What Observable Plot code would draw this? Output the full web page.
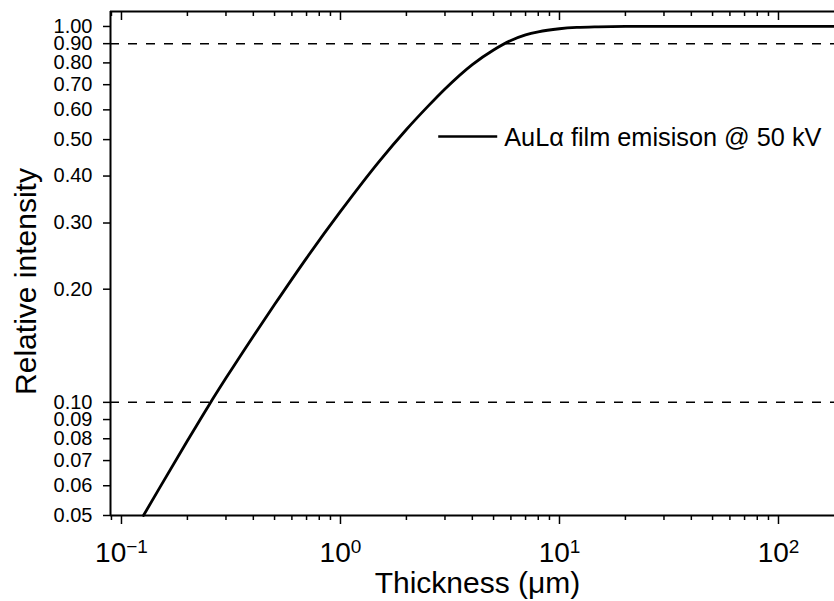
<!DOCTYPE html>
<html>
<head>
<meta charset="utf-8">
<script src="https://cdn.jsdelivr.net/npm/d3@7"></script>
<script src="https://cdn.jsdelivr.net/npm/@observablehq/plot@0.6"></script>
<style>
  html, body { margin: 0; padding: 0; background: #fff; }
  #chart svg { display: block; }
</style>
</head>
<body>
<div id="chart"></div>
<script>
// Curve: relative intensity vs film thickness (µm)
const thickness = [0.126, 0.15, 0.2, 0.25, 0.3, 0.4, 0.5, 0.7, 1.0, 1.5, 2.0, 2.5, 3.0, 4.0, 5.0, 6.0, 7.0, 8.0, 10, 12, 15, 20, 50, 100, 180];
const intensity = [0.05, 0.0595, 0.079, 0.098, 0.116, 0.150, 0.182, 0.242, 0.322, 0.437, 0.532, 0.612, 0.682, 0.792, 0.866, 0.918, 0.95, 0.968, 0.986, 0.994, 0.998, 1.0, 1.0, 1.0, 1.0];

// Reference levels (dashed)
const levels = [0.90, 0.10];

// Axes
const xDomain = [0.0891, 180.2];
const yDomain = [0.05, 1.096];
const xMajor = [0.1, 1, 10, 100];
const xExponents = ["\u22121", "0", "1", "2"];
const xMinor = [0.09, 0.2, 0.3, 0.4, 0.5, 0.6, 0.7, 0.8, 0.9, 2, 3, 4, 5, 6, 7, 8, 9, 20, 30, 40, 50, 60, 70, 80, 90];
const yTicks = [1.00, 0.90, 0.80, 0.70, 0.60, 0.50, 0.40, 0.30, 0.20, 0.10, 0.09, 0.08, 0.07, 0.06, 0.05];

const xTitle = "Thickness (\u03bcm)";
const yTitle = "Relative intensity";
const legendLabel = "AuL\u03b1 film emisison @ 50 kV";

const data = thickness.map((t, i) => ({t, I: intensity[i]}));

const W = 834, H = 601, mL = 110, mR = 0, mT = 11, mB = 86;
const innerH = H - mT - mB;

const plot = Plot.plot({
  width: W,
  height: H,
  marginLeft: mL,
  marginRight: mR,
  marginTop: mT,
  marginBottom: mB,
  style: {fontFamily: "'Liberation Sans', Arial, sans-serif", color: "#000", background: "#fff", overflow: "visible"},
  x: {type: "log", domain: xDomain},
  y: {type: "log", domain: yDomain},
  marks: [
    Plot.ruleY(levels, {stroke: "#000", strokeWidth: 1.5, strokeDasharray: "9,9"}),
    Plot.line(data, {x: "t", y: "I", stroke: "#000", strokeWidth: 2.8, curve: "monotone-x"}),
    // frame lines
    Plot.ruleX([xDomain[0]], {stroke: "#000", strokeWidth: 2}),
    Plot.ruleY([yDomain[0], yDomain[1]], {stroke: "#000", strokeWidth: 2}),
    // y axis
    Plot.axisY(yTicks, {tickSize: 7, tickPadding: 11, tickFormat: d => d.toFixed(2), fontSize: 20, label: null, strokeWidth: 1.5}),
    // x axis (bottom)
    Plot.axisX(xMajor, {anchor: "bottom", tickSize: 9, tickPadding: 18, fontSize: 28, label: null, strokeWidth: 1.5,
      tickFormat: d => "10^" + xExponents[xMajor.indexOf(d)]}),
    Plot.axisX(xMinor, {anchor: "bottom", tickSize: 5, tickFormat: () => "", label: null, strokeWidth: 1.5}),
    // mirrored inward ticks on top
    Plot.tickX(xMajor, {x: d => d, stroke: "#000", strokeWidth: 1.5, insetBottom: innerH - 9}),
    Plot.tickX(xMinor, {x: d => d, stroke: "#000", strokeWidth: 1.5, insetBottom: innerH - 5}),
    // titles
    Plot.text([xTitle], {text: d => d, frameAnchor: "bottom", textAnchor: "middle", dx: 5, dy: 68, fontSize: 30, lineAnchor: "middle", fill: "#000"}),
    Plot.text([yTitle], {text: d => d, frameAnchor: "left", textAnchor: "middle", dx: -84, dy: 18, rotate: -90, fontSize: 30, lineAnchor: "middle", fill: "#000"}),
    // legend label
    Plot.text([legendLabel], {text: d => d, frameAnchor: "top-right", dx: -13, dy: 126, textAnchor: "end", fontSize: 25.3, lineAnchor: "middle", fill: "#000"})
  ]
});

document.getElementById("chart").appendChild(plot);

// superscript exponents on the x tick labels
d3.select(plot).selectAll("g[aria-label='x-axis tick label'] text").each(function() {
  const s = this.textContent;
  if (!s.includes("^")) return;
  const [base, exp] = s.split("^");
  const t = d3.select(this);
  t.text(null);
  t.append("tspan").text(base);
  t.append("tspan").attr("dy", "-0.5em").attr("font-size", "19px").text(exp);
});

// legend swatch line, placed from the legend text's on-screen box
const legendText = d3.select(plot).selectAll("text").filter(function() { return this.textContent === legendLabel; }).node();
if (legendText) {
  const sr = plot.getBoundingClientRect();
  const bb = legendText.getBoundingClientRect();
  const x0 = bb.left - sr.left;
  const yMid = bb.top - sr.top + bb.height / 2;
  d3.select(plot).append("line")
    .attr("x1", x0 - 66).attr("x2", x0 - 7)
    .attr("y1", yMid).attr("y2", yMid)
    .attr("stroke", "#000").attr("stroke-width", 2.5);
}
</script>
</body>
</html>
